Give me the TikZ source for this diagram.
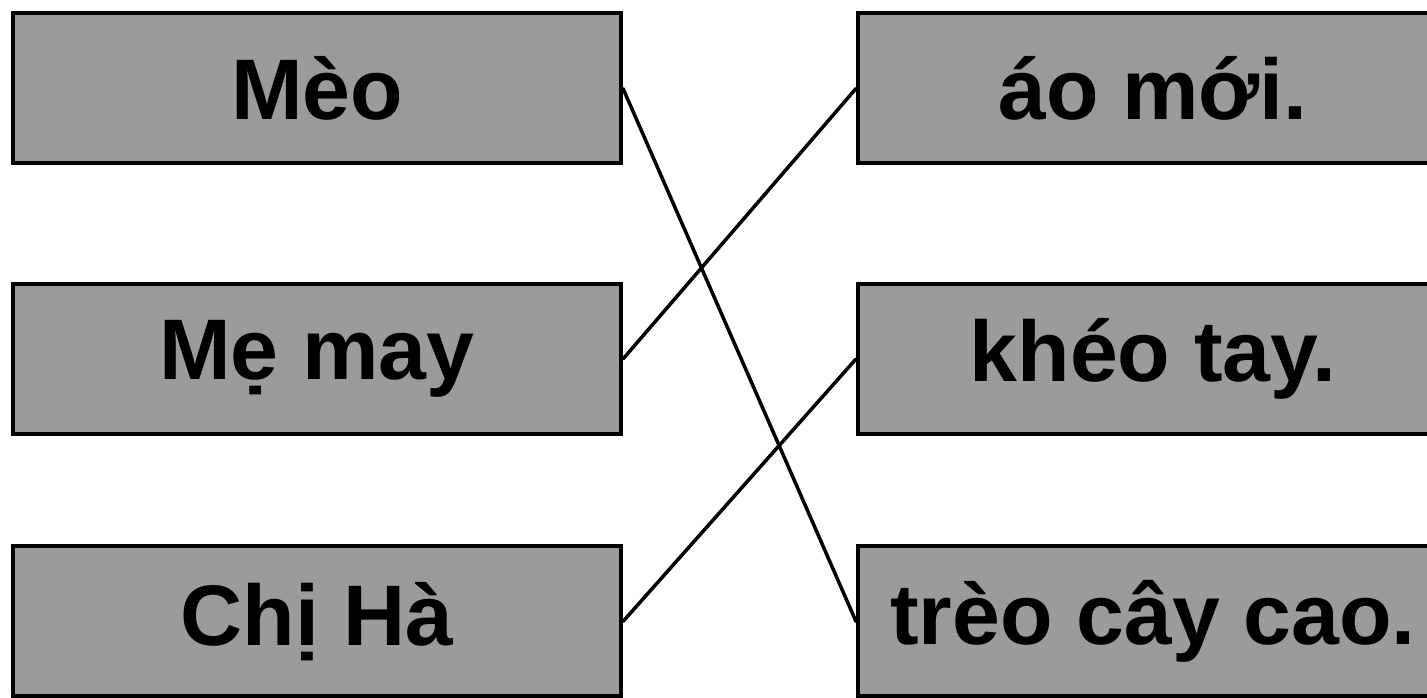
\documentclass[tikz,border=0pt]{standalone}
\usepackage{fontspec}
\setmainfont{Liberation Sans}
\usepackage{xcolor}
\definecolor{cardgray}{RGB}{155, 155, 155}

\tikzset{
    card/.style={draw=black, line width=4pt, fill=cardgray, inner sep=0pt,
        minimum height=150pt, font=\fontsize{86}{90}\selectfont\bfseries},
    leftcard/.style={card, minimum width=608pt},
    rightcard/.style={card, minimum width=590pt},
    link/.style={line width=3.5pt, line cap=round}
}

\begin{document}
\begin{tikzpicture}[x=1pt, y=1pt]
        \useasboundingbox (0,0) rectangle (1427,698);
        \clip (0,0) rectangle (1427,698);

        % Subjects
        \foreach \name/\y/\word in {meo/609.5/Mèo, me/339/Mẹ may, chi/76.5/Chị Hà} {
            \node[leftcard] (\name) at (317, \y) {\word};
        }

        % Predicates
        \foreach \name/\y/\word in {ao/609.5/áo mới., kheo/339/khéo tay., treo/76.5/trèo cây cao.} {
            \node[rightcard] (\name) at (1153, \y) {\word};
        }

        % Matching lines
        \draw[link] (meo.east) -- (treo.west);
        \draw[link] (me.east) -- (ao.west);
        \draw[link] (chi.east) -- (kheo.west);
    \end{tikzpicture}
\end{document}
